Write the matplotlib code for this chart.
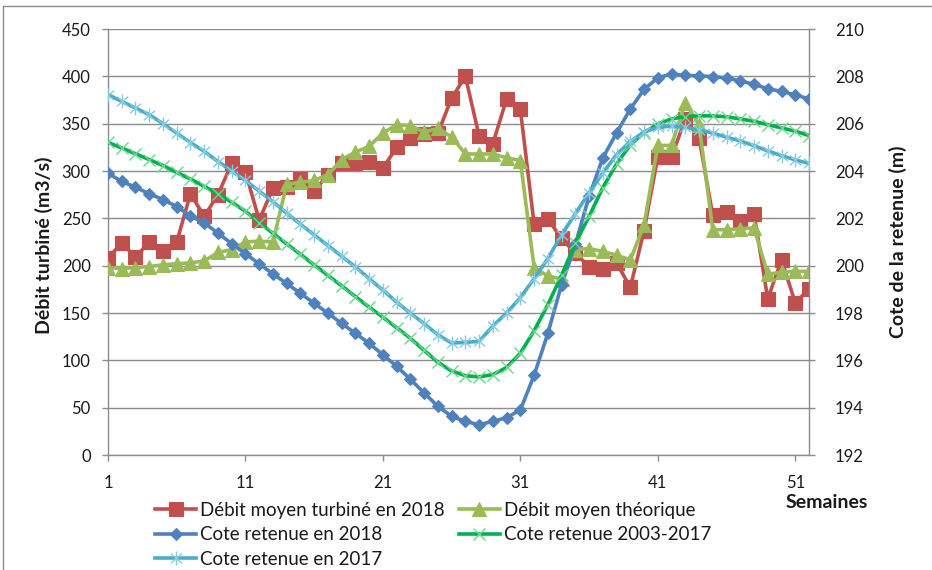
import matplotlib
matplotlib.use("Agg")
import matplotlib.pyplot as plt
from matplotlib.path import Path
from matplotlib.lines import Line2D

plt.rcParams['font.family'] = ['Lato', 'DejaVu Sans']

weeks = list(range(1, 53))

debit_turbine_2018 = [208, 224, 209, 225, 215, 225, 276, 252, 275, 308,
                      299, 248, 282, 283, 292, 279, 296, 308, 308, 309,
                      303, 325, 335, 339, 340, 377, 400, 337, 329, 376,
                      365, 244, 249, 229, 213, 199, 197, 203, 177, 237,
                      315, 315, 355, 335, 253, 257, 247, 255, 165, 206,
                      161, 175]

debit_theorique = [198, 197, 198, 199, 201, 202, 203, 205, 214, 217,
                   225, 226, 225, 286, 288, 290, 296, 312, 320, 326,
                   340, 349, 348, 341, 345, 336, 318, 318, 318, 314,
                   311, 198, 189, 186, 217, 218, 215, 211, 206, 243,
                   327, 327, 372, 349, 238, 238, 239, 240, 191, 193,
                   194, 194]

cote_2018 = [203.90, 203.56, 203.31, 203.04, 202.79, 202.50, 202.10, 201.80, 201.38, 200.93,
             200.50, 200.08, 199.65, 199.25, 198.83, 198.41, 197.99, 197.56, 197.14, 196.72,
             196.23, 195.75, 195.20, 194.62, 194.06, 193.63, 193.42, 193.28, 193.42, 193.58,
             193.90, 195.37, 197.14, 199.20, 200.90, 202.93, 204.55, 205.61, 206.62, 207.45,
             207.94, 208.10, 208.04, 208.02, 207.99, 207.93, 207.81, 207.66, 207.48, 207.36,
             207.22, 207.04]

cote_2003_2017 = [205.21, 204.97, 204.73, 204.48, 204.23, 203.94, 203.66, 203.35, 203.03, 202.68,
                  202.30, 201.82, 201.37, 200.92, 200.48, 200.03, 199.59, 199.15, 198.69, 198.25,
                  197.82, 197.38, 196.93, 196.42, 195.92, 195.55, 195.35, 195.30, 195.40, 195.70,
                  196.30, 197.25, 198.35, 199.60, 200.95, 202.08, 203.30, 204.30, 205.10, 205.62,
                  205.98, 206.20, 206.30, 206.33, 206.33, 206.29, 206.20, 206.10, 205.96, 205.82,
                  205.68, 205.50]

cote_2017 = [207.23, 206.94, 206.66, 206.38, 206.00, 205.60, 205.20, 204.83, 204.40, 204.00,
             203.60, 203.15, 202.70, 202.22, 201.75, 201.30, 200.85, 200.40, 199.95, 199.45,
             198.97, 198.46, 197.99, 197.55, 197.08, 196.73, 196.76, 196.80, 197.45, 198.00,
             198.65, 199.45, 200.30, 201.30, 202.20, 203.07, 203.92, 204.69, 205.25, 205.65,
             205.84, 205.90, 205.84, 205.74, 205.60, 205.43, 205.27, 205.07, 204.85, 204.65,
             204.47, 204.32]

x_ticks = [1, 11, 21, 31, 41, 51]
left_ticks = list(range(0, 451, 50))
right_ticks = list(range(192, 211, 2))

RED = '#c0504d'
OLIVE = '#9bbb59'
BLUE = '#4f81bd'
GREEN = '#00b050'
GREEN_MK = '#6fd68c'
CYAN = '#4bacc6'
CYAN_MK = '#86cbe4'
AXIS = '#8c8c8c'
TXT = '#1a1a1a'

# asterisk marker: vertical bar plus an X
star = Path([(0, -1), (0, 1), (-0.8, -0.7), (0.8, 0.7), (-0.8, 0.7), (0.8, -0.7)],
            [Path.MOVETO, Path.LINETO, Path.MOVETO, Path.LINETO, Path.MOVETO, Path.LINETO])

W, H = 932, 570
fig = plt.figure(figsize=(W / 100, H / 100), dpi=100)

# outer chart frame
fig.add_artist(Line2D([3 / W, 3 / W], [0, 1 - 6 / H], color=AXIS, lw=1.0))
fig.add_artist(Line2D([3 / W, 1], [1 - 6 / H, 1 - 6 / H], color=AXIS, lw=1.0))

x0, x1, y0, y1 = 108, 809, 29, 455
ax = fig.add_axes([x0 / W, 1 - y1 / H, (x1 - x0) / W, (y1 - y0) / H])
ax2 = ax.twinx()

ax.set_xlim(1, 52)
ax.set_ylim(0, 450)
ax2.set_ylim(192, 210)

lw = 2.6
l_red, = ax.plot(weeks, debit_turbine_2018, color=RED, lw=lw, marker='s', ms=9.5,
                 mfc=RED, mec=RED, mew=0.8, label='Débit moyen turbiné en 2018', zorder=3)
l_olive, = ax.plot(weeks, debit_theorique, color=OLIVE, lw=lw, marker='^', ms=9.5,
                   mfc=OLIVE, mec=OLIVE, mew=0.8, label='Débit moyen théorique', zorder=4)

l_blue, = ax2.plot(weeks, cote_2018, color=BLUE, lw=lw, marker='D', ms=6.5,
                   mfc=BLUE, mec=BLUE, mew=0.8, label='Cote retenue en 2018', zorder=3)
l_green, = ax2.plot(weeks, cote_2003_2017, color=GREEN, lw=lw, marker='x', ms=8.5,
                    mec=GREEN_MK, mew=1.0, label='Cote retenue 2003-2017', zorder=4)
l_cyan, = ax2.plot(weeks, cote_2017, color=CYAN, lw=lw, marker=star, ms=10,
                   mec=CYAN_MK, mew=1.0, label='Cote retenue en 2017', zorder=5)

ax.set_yticks(left_ticks)
ax.set_xticks(x_ticks)
ax2.set_yticks(right_ticks)

ax.yaxis.grid(True, color=AXIS, lw=1.0)
ax.set_axisbelow(True)

for a in (ax, ax2):
    for s in a.spines.values():
        s.set_visible(False)
ax.spines['left'].set_visible(True)
ax.spines['bottom'].set_visible(True)
ax2.spines['right'].set_visible(True)
for s in (ax.spines['left'], ax.spines['bottom'], ax2.spines['right']):
    s.set_color(AXIS)
    s.set_linewidth(1.0)

fs = 12
ax.tick_params(axis='y', direction='out', length=4.5, width=1, color=AXIS,
               labelsize=fs, labelcolor=TXT, pad=8)
ax.tick_params(axis='x', direction='out', length=4.5, width=1, color=AXIS,
               labelsize=fs, labelcolor=TXT, pad=10)
ax2.tick_params(axis='y', direction='out', length=4.5, width=1, color=AXIS,
                labelsize=fs, labelcolor=TXT, pad=14)

lab_fs = 14
fig.text(44 / W, 1 - 245 / H, 'Débit turbiné (m3/s)', rotation=90, ha='center',
         va='center', fontsize=lab_fs, fontweight='bold', color=TXT)
fig.text(898 / W, 1 - 242 / H, 'Cote de la retenue (m)', rotation=90, ha='center',
         va='center', fontsize=lab_fs, fontweight='bold', color=TXT)
fig.text(827 / W, 1 - 503 / H, 'Semaines', ha='center', va='center',
         fontsize=lab_fs, fontweight='bold', color=TXT)

leg_fs = 13.5
handles = [l_red, l_blue, l_cyan, l_olive, l_green]
fig.legend(handles, [h.get_label() for h in handles], ncol=2, frameon=False,
           loc='upper left', bbox_to_anchor=(155 / W, 1 - 502 / H),
           fontsize=leg_fs, handlelength=2.2, handletextpad=0.2, columnspacing=0.75,
           labelspacing=0.4, borderpad=0, borderaxespad=0, labelcolor=TXT)

fig.savefig('out.png', dpi=100)
